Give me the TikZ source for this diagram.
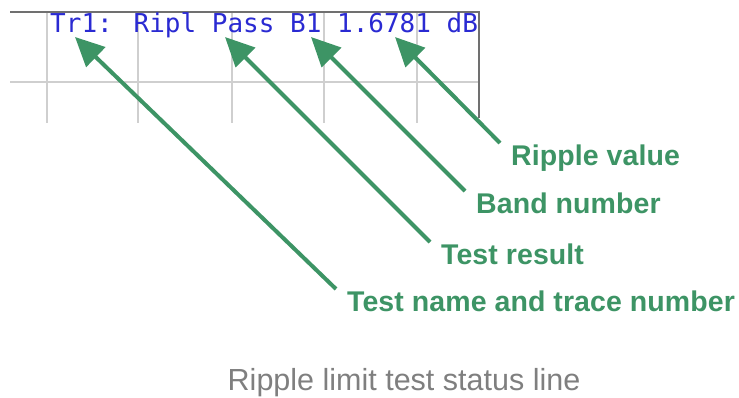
\documentclass[tikz,border=0pt]{standalone}
\usepackage{fontspec}
\usepackage{tikz}
\usetikzlibrary{arrows.meta, positioning}
\usepackage{xcolor}
\setmainfont{Liberation Sans}
\newfontfamily\statusfont{DejaVu Sans Mono}
\newfontfamily\calloutfont[LetterSpace=0.3]{Liberation Sans}
\definecolor{calloutgreen}{HTML}{3D9465}
\definecolor{statusblue}{HTML}{2A2AD2}
\definecolor{gridgray}{HTML}{CFCFCF}
\definecolor{framegray}{HTML}{707070}
\definecolor{captiongray}{HTML}{7F7F7F}

\begin{document}
\begin{tikzpicture}[x=1pt, y=-1pt,
    callout/.style={anchor=north west, inner xsep=11pt, inner ysep=2pt, text=calloutgreen,
        font=\calloutfont\bfseries\fontsize{28.5}{30}\selectfont},
    pointer/.style={draw=calloutgreen, line width=4pt,
        -{Triangle[length=29pt, width=27pt]}}]
    \useasboundingbox (0,0) rectangle (739,398);
    % screenshot grid
    \foreach \gx in {47,138,232,324,417}
        \draw[gridgray, line width=1.2pt] (\gx,12) -- (\gx,123);
    \draw[gridgray, line width=1.2pt] (10,82) -- (479,82);
    \draw[framegray, line width=1.5pt] (10,12) -- (479,12) -- (479,118);
    % status line
    \node[anchor=base west, inner sep=0pt, text=statusblue,
        font=\statusfont\fontsize{26}{28}\selectfont] (status) at (50,33) {Tr1: Ripl Pass B1 1.6781 dB};
    \coordinate (tipname) at (75,37);
    \coordinate (tipresult) at (225,37);
    \coordinate (tipband) at (311,37);
    \coordinate (tipvalue) at (395,37);
    % callouts
    \node[callout] (value) at (500,143) {Ripple value};
    \node[callout] (band) at (465,191) {Band number};
    \node[callout] (result) at (430,242) {Test result};
    \node[callout] (name) at (336,289) {Test name and trace number};
    \draw[pointer] (value.north west) -- (tipvalue);
    \draw[pointer] (band.north west) -- (tipband);
    \draw[pointer] (result.north west) -- (tipresult);
    \draw[pointer] (name.north west) -- (tipname);
    \node[anchor=base, inner sep=0pt, text=captiongray, font=\fontsize{30.5}{32}\selectfont] (caption) at (404,390) {Ripple limit test status line};
\end{tikzpicture}
\end{document}
